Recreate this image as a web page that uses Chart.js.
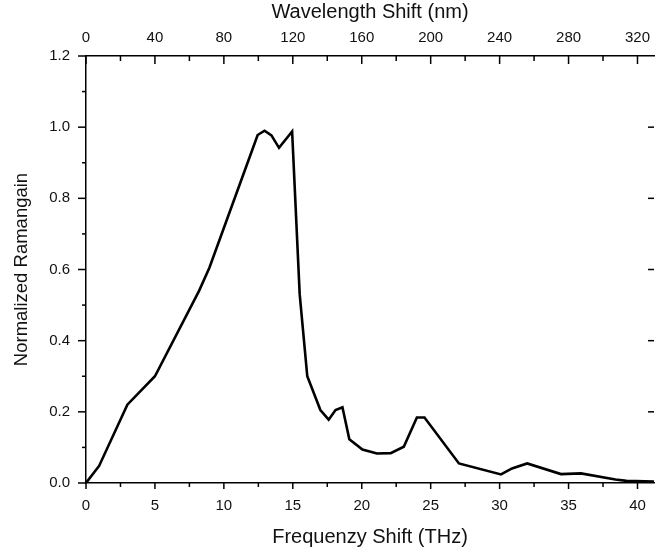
<!DOCTYPE html>
<html lang="en">
<head>
    <meta charset="UTF-8">
    <title>Normalized Raman Gain</title>
    <script src="https://cdn.jsdelivr.net/npm/chart.js@4.4.0/dist/chart.umd.min.js"></script>
    <style>
        html, body { margin: 0; padding: 0; background: #fff; overflow: hidden; }
        .chart-container { position: relative; width: 660px; height: 553px; }
    </style>
</head>
<body>
    <div class="chart-container">
        <canvas id="ramanChart"></canvas>
    </div>

    <script>
        // Frequency shift (THz) and normalized gain
        const freqShift = [0, 0.95, 3.0, 5.0, 8.2, 8.95, 12.05, 12.45, 12.95, 13.45, 14.0, 14.95,
            15.5, 16.05, 17.0, 17.6, 18.1, 18.6, 19.1, 20.05, 21.1, 22.1, 23.05, 24.0, 24.55,
            27.05, 30.1, 30.9, 32.0, 34.45, 35.9, 38.4, 39.2, 41.2];
        const ramanGain = [0, 0.048, 0.22, 0.30, 0.54, 0.605, 0.935, 0.978, 0.99, 0.977, 0.942, 0.988,
            0.53, 0.30, 0.205, 0.178, 0.205, 0.213, 0.123, 0.094, 0.083, 0.084, 0.102, 0.184, 0.184,
            0.055, 0.024, 0.041, 0.055, 0.025, 0.027, 0.01, 0.006, 0.004];

        const freqTicks = [0, 5, 10, 15, 20, 25, 30, 35, 40];
        const waveTicks = [0, 40, 80, 120, 160, 200, 240, 280, 320];
        const gainTicks = [0, 0.2, 0.4, 0.6, 0.8, 1.0, 1.2];

        const FREQ_MAX = 41.2;
        const NM_PER_THZ = 8;
        const FONT = 'Liberation Sans, Arial, sans-serif';

        const tickMarks = {
            id: 'tickMarks',
            afterDraw(chart) {
                const { ctx, chartArea, scales } = chart;
                ctx.save();
                ctx.strokeStyle = '#000';
                ctx.lineWidth = 1.5;
                const line = (x1, y1, x2, y2) => {
                    ctx.beginPath(); ctx.moveTo(x1, y1); ctx.lineTo(x2, y2); ctx.stroke();
                };
                // bottom: outward
                for (let v = 0; v <= FREQ_MAX; v += 2.5) {
                    const x = scales.x.getPixelForValue(v);
                    line(x, chartArea.bottom, x, chartArea.bottom + (v % 5 === 0 ? 6 : 4));
                }
                // top: inward
                for (let v = 0; v <= FREQ_MAX * NM_PER_THZ; v += 20) {
                    const x = scales.x2.getPixelForValue(v);
                    line(x, chartArea.top, x, chartArea.top + (v % 40 === 0 ? 8 : 5));
                }
                // left: outward, right: inward
                for (let i = 0; i <= 12; i++) {
                    const y = scales.y.getPixelForValue(i / 10);
                    line(chartArea.left, y, chartArea.left - (i % 2 === 0 ? 8 : 4), y);
                    if (i % 2 === 0 && i > 0 && i < 12) {
                        line(chartArea.right - 6, y, chartArea.right, y);
                    }
                }
                ctx.restore();
            }
        };

        const ctx = document.getElementById('ramanChart').getContext('2d');
        new Chart(ctx, {
            type: 'line',
            data: {
                datasets: [{
                    data: freqShift.map((f, i) => ({ x: f, y: ramanGain[i] })),
                    borderColor: '#000',
                    borderWidth: 2.6,
                    pointRadius: 0,
                    tension: 0,
                    fill: false
                }]
            },
            options: {
                responsive: true,
                maintainAspectRatio: false,
                animation: false,
                layout: { padding: 0 },
                plugins: {
                    legend: { display: false },
                    tooltip: { enabled: false }
                },
                scales: {
                    x: {
                        type: 'linear',
                        position: 'bottom',
                        min: 0,
                        max: FREQ_MAX,
                        afterBuildTicks: (scale) => { scale.ticks = freqTicks.map(v => ({ value: v })); },
                        afterFit: (scale) => { scale.height = 70; },
                        ticks: { color: '#111', font: { family: FONT, size: 15 }, padding: 14 },
                        grid: { display: false, drawTicks: false },
                        border: { display: true, color: '#000', width: 1.5 },
                        title: {
                            display: true,
                            text: 'Frequenzy Shift (THz)',
                            color: '#111',
                            font: { family: FONT, size: 20 },
                            padding: { top: 0, bottom: 4 }
                        }
                    },
                    x2: {
                        type: 'linear',
                        position: 'top',
                        min: 0,
                        max: FREQ_MAX * NM_PER_THZ,
                        afterBuildTicks: (scale) => { scale.ticks = waveTicks.map(v => ({ value: v })); },
                        afterFit: (scale) => { scale.height = 56; },
                        ticks: { color: '#111', font: { family: FONT, size: 15 }, padding: 9 },
                        grid: { display: false, drawTicks: false },
                        border: { display: true, color: '#000', width: 1.5 },
                        title: {
                            display: true,
                            text: 'Wavelength Shift (nm)',
                            color: '#111',
                            font: { family: FONT, size: 20 },
                            padding: { top: 0, bottom: 0 }
                        }
                    },
                    y: {
                        min: 0,
                        max: 1.2,
                        afterBuildTicks: (scale) => { scale.ticks = gainTicks.map(v => ({ value: v })); },
                        afterFit: (scale) => { scale.width = 86; },
                        ticks: {
                            color: '#111',
                            font: { family: FONT, size: 15 },
                            padding: 16,
                            callback: (v) => v.toFixed(1)
                        },
                        grid: { display: false, drawTicks: false },
                        border: { display: true, color: '#000', width: 1.5 },
                        title: {
                            display: true,
                            text: 'Normalized Ramangain',
                            color: '#111',
                            font: { family: FONT, size: 18.5 },
                            padding: { top: 11, bottom: 0 }
                        }
                    }
                }
            },
            plugins: [tickMarks]
        });
    </script>
</body>
</html>
